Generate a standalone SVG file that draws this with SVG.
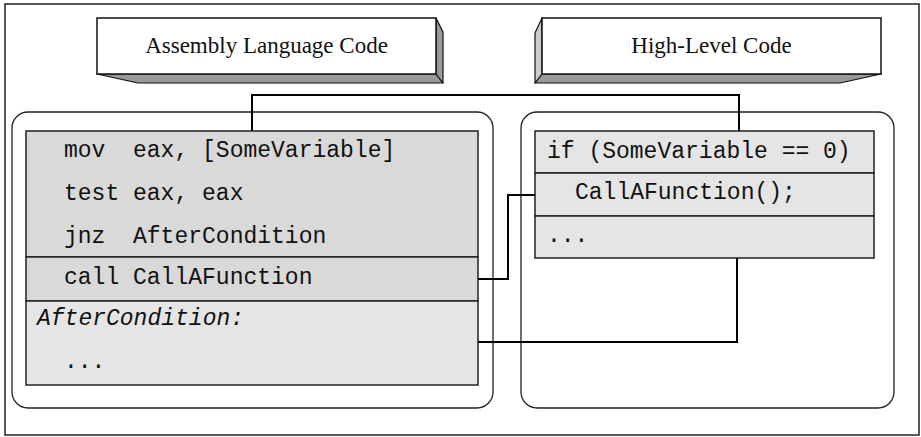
<svg xmlns="http://www.w3.org/2000/svg" width="921" height="437" viewBox="0 0 921 437">
<style>
.frame{fill:#fff;stroke:#222;stroke-width:1.5}
.face{fill:#fff;stroke:#111;stroke-width:1.5}
.dark{fill:#999;stroke:#111;stroke-width:1.2;stroke-linejoin:round}
.light{fill:#ccc;stroke:#111;stroke-width:1.2;stroke-linejoin:round}
.cont{fill:#fff;stroke:#222;stroke-width:1.3}
.s1{fill:#d9d9d9;stroke:#222;stroke-width:1.5}
.s2{fill:#e5e5e5;stroke:#222;stroke-width:1.5}
.hd{font-family:"Liberation Serif","Times New Roman",serif;font-size:23px;fill:#111;text-anchor:middle}
.code{font-family:"Liberation Mono","Courier New",monospace;font-size:23px;fill:#111;white-space:pre}
.it{font-style:italic}
.conn{fill:none;stroke:#000;stroke-width:2}
</style>
<rect class="frame" x="5" y="4" width="914" height="431"/>
<g id="hdr-asm">
<polygon class="dark" points="97,74 436,74 443,83 138,83"/>
<polygon class="dark" points="436,18 443,32 443,83 436,74"/>
<rect class="face" x="97" y="18" width="339" height="56"/>
<text class="hd" x="266.5" y="53">Assembly Language Code</text>
</g>
<g id="hdr-hl">
<polygon class="dark" points="542,74 881,74 840,83 535,83"/>
<polygon class="light" points="542,18 535,33 535,83 542,74"/>
<rect class="face" x="542" y="18" width="339" height="56"/>
<text class="hd" x="711.5" y="53">High-Level Code</text>
</g>
<g id="asm-container">
<rect class="cont" x="12" y="112" width="481" height="296" rx="16"/>
</g>
<g id="hl-container">
<rect class="cont" x="521" y="112" width="373" height="296" rx="16"/>
</g>
<g id="asm-code">
<rect class="s1" x="26" y="131" width="452" height="126"/>
<text class="code" x="64" y="157">mov  eax, [SomeVariable]</text>
<text class="code" x="64" y="200">test eax, eax</text>
<text class="code" x="64" y="243">jnz  AfterCondition</text>
</g>
<g id="asm-call">
<rect class="s1" x="26" y="257" width="452" height="44"/>
<text class="code" x="64" y="284">call CallAFunction</text>
</g>
<g id="asm-after">
<rect class="s2" x="26" y="301" width="452" height="84"/>
<text class="code it" x="37" y="325">AfterCondition:</text>
<text class="code" x="64" y="368">...</text>
</g>
<g id="hl-if">
<rect class="s2" x="535" y="131" width="339" height="42"/>
<text class="code" x="547" y="158">if (SomeVariable == 0)</text>
</g>
<g id="hl-call">
<rect class="s2" x="535" y="173" width="339" height="43"/>
<text class="code" x="575" y="199">CallAFunction();</text>
</g>
<g id="hl-rest">
<rect class="s2" x="535" y="216" width="339" height="42"/>
<text class="code" x="547" y="242">...</text>
</g>
<g id="connectors">
<path class="conn" d="M252,131 V95 H739 V131"/>
<path class="conn" d="M478,279 H508 V195 H535"/>
<path class="conn" d="M478,342 H737 V258"/>
</g>
</svg>
